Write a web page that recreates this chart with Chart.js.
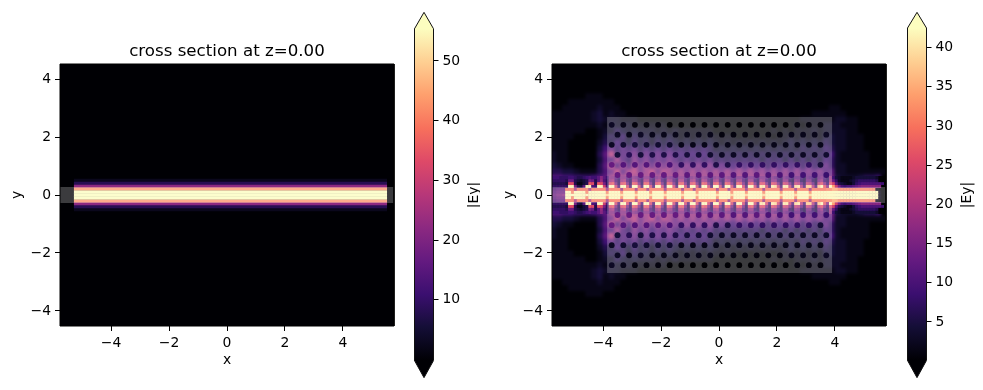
<!DOCTYPE html>
<html><head><meta charset="utf-8">
<style>html,body{margin:0;padding:0;background:#fff;width:983px;height:390px;overflow:hidden}canvas{position:absolute;top:0}</style>
<script src="https://cdn.jsdelivr.net/npm/chart.js@4/dist/chart.umd.min.js"></script>
</head><body>
<canvas id="pL" width="400" height="390" style="left:0"></canvas>
<canvas id="cL" width="80" height="390" style="left:400px"></canvas>
<canvas id="pR" width="400" height="390" style="left:492px"></canvas>
<canvas id="cR" width="90" height="390" style="left:893px"></canvas>
<script>
const titleText = 'cross section at z=0.00';
const xTicks = [-4, -2, 0, 2, 4];
const yTicks = [-4, -2, 0, 2, 4];
const xLimits = [-5.76, 5.76];
const yLimits = [-4.52, 4.52];
const barTicksLeft = [10, 20, 30, 40, 50];
const barTicksRight = [5, 10, 15, 20, 25, 30, 35, 40];
const rangeLeft = [-0.2, 55.4];
const rangeRight = [0.1, 42.5];
const magmaStops = ['#000004','#140e36','#3b0f70','#641a80','#8c2981','#b73779','#de4968','#f7705c','#fe9f6d','#fecf92','#fcfdbf'];

// left panel: the mode profile, one value per row above the axis (mirrored below)
const leftRowY = [0, 0.1, 0.2, 0.3, 0.4, 0.5];
const leftRowValue = [70, 60, 43, 22, 8, 2.5];
const leftBandX = [-5.28, 5.52];

// outlines of the structures
const waveguideX = [-5.76, 5.76, 5.76, -5.76];
const waveguideY = [0.28, 0.28, -0.28, -0.28];
const unionX = [-5.76, -3.86, -3.86, 3.9, 3.9, 5.76, 5.76, 3.9, 3.9, -3.86, -3.86, -5.76];
const unionY = [0.28, 0.28, 2.69, 2.69, 0.28, 0.28, -0.28, -0.28, -2.69, -2.69, -0.28, -0.28];

// photonic crystal holes
const holeRowsOdd = [2.42, 1.73, 1.04, -1.04, -1.73, -2.42];
const holeRowsEven = [2.08, 1.385, 0.69, -0.69, -1.385, -2.08];
const holeColsOdd = [-3.7,-3.3,-2.9,-2.5,-2.1,-1.7,-1.3,-0.9,-0.5,-0.1,0.3,0.7,1.1,1.5,1.9,2.3,2.7,3.1,3.5];
const holeColsEven = [-3.5,-3.1,-2.7,-2.3,-1.9,-1.5,-1.1,-0.7,-0.3,0.1,0.5,0.9,1.3,1.7,2.1,2.5,2.9,3.3,3.7];

// right panel field, each character = one cell, value = digit (base 36) x 1.5
const coarseStep = 0.2, coarseStartX = -5.7;
const coarseY = [3.6,3.4,3.2,3.0,2.8,2.6,2.4,2.2,2.0,1.8,1.6,1.4,1.2,1.0,0.8,0.6,0.4,0.2,0];
const coarseRows = [
'0000000000 000 000 000 000 000 000 000 000 000 000 000 000 000 000000000',
'0000001110 000 000 000 000 000 000 000 000 000 000 000 000 000 000000000',
'0001111111 100 000 000 000 000 000 000 000 000 000 000 000 000 000000000',
'0011111121 110 000 000 000 000 000 000 000 000 000 000 000 001 100000000',
'1111111231 211 000 000 000 000 000 000 000 000 000 000 001 111 110000000',
'1111111232 221 110 000 000 000 000 000 000 000 000 000 111 111 221100000',
'1111111121 322 211 111 100 000 000 000 000 000 000 001 011 122 211100000',
'1111110012 243 232 221 212 111 111 000 000 000 010 101 112 122 221100000',
'1111000013 435 243 323 232 121 212 111 101 010 101 121 212 133 221110000',
'1110000024 364 353 424 343 232 323 212 121 212 121 232 323 243 221110000',
'1110000036 857 574 646 464 545 454 232 323 232 323 232 434 354 221110000',
'2110000048 e57 795 868 686 656 564 434 343 434 343 434 343 446 211111000',
'2110000037 7c7 5a7 968 797 575 757 454 545 453 545 353 535 365 211111000',
'3211000048 e7c 7c9 c8c 9b9 8a8 a8a 686 686 868 586 868 585 585 221111000',
'4433211147 9e8 ce9 ce9 dc9 c9c 9c9 c9c 9c9 c9b 8b8 b8b 8a8 a78 221111111',
'7766555678 cec ece cec ece cdc dcd cdc cdc cdc bcb bab a9a 999 322234450',
'9998777889 fff fff fff fff fff fff fff fff fff fff fff fff fff 544556770',
'ccccccdddd kkk kkk kkk kkk kkk kkk kkk kkk kkk kkk kkk kkk kkk 888888880',
'ccccccdddd kkk kkk kkk kkk kkk kkk kkk kkk kkk kkk kkk kkk kkk 888888880'
];
const fineStep = 0.1, fineStartX = -5.75;
const fineY = [0, 0.1, 0.2, 0.3, 0.4, 0.5, 0.6];
const fineRows = [
'99aab ssssssssssss ssqs sssq ssss qsss sqss ssqs ssss qsss sqss ssss qsss sqss ssqs ssss qsss ssqs sssq ssss qsss ssss ssssssssssssssss 100',
'88999 sslsssslssss ssls sssl ssss lsss slss ssls ssss lsss slss ssss lsss slss ssls ssss lsss ssls sssl ssss lsss ssss ssssssssssssssss 100',
'77888 kkkdkkkkdkkk kkck kkkc kkkk ckkk ckkk kkck kkkk ckkk ckkk kkkk ckkk ckkk kkck kkkk ckkk kkck kkkc kkkk ckkk kkll nnlllllllllllll 100',
'55555 5ssa438ss76s sg7s sg7s sg7s sg7s sg7s sg7s sg7s sg7s sg7s sg7s sg7s sg7s sg7s sg7r rg7r qg7r rf7q re7p pe7p sib s nga767789abbbbbbb 000',
'44444 3hh41134ih4i ha5h ia5h ia5i ha5i ia5h ia5i ha5i ia5h ia5i ha5h ia5i ha5i ha5h ia5h ha5h ga5g fa5f e95f e94f hb6h g84321135677777776 000',
'55555 49943234a948 c75c d75c d75d c75d d75c d75d c75d d75c d75d c75c d75d c75c c75c c65c b65b b65b b54b a54a a54a c65d 9521112345555554 000',
'66655 566544567668 b86b b86b b86b a86b b86a b86b a86b b86a b86b a86a b86b a86a a86a a86a a85a 975a 9759 9649 8649 a75c 6321111233333332 000'
];

const fontFamily = '"DejaVu Sans", sans-serif';
const tickFont = {family: fontFamily, size: 13.9};

function hexRgb(h){return [1,3,5].map(i=>parseInt(h.substr(i,2),16));}
function magma(f){
  f=Math.max(0,Math.min(1,f));
  const p=f*(magmaStops.length-1), i=Math.min(Math.floor(p),magmaStops.length-2), t=p-i;
  const a=hexRgb(magmaStops[i]), b=hexRgb(magmaStops[i+1]);
  return `rgb(${a.map((c,k)=>Math.round(c+(b[k]-c)*t)).join(',')})`;
}
function digits(row){return row.replace(/ /g,'').split('').map(c=>parseInt(c,36)*1.5);}
function tableCells(rows, ys, startX, step){
  const cells=[];
  rows.forEach((row,r)=>{
    digits(row).forEach((v,c)=>{
      const x=startX+c*step;
      cells.push({x,y:ys[r],v});
      if(ys[r]!==0) cells.push({x,y:-ys[r],v});
    });
  });
  return cells;
}
const coarseValues = coarseRows.map(digits);
function fieldAt(x,y){
  const r=coarseY.findIndex(v=>Math.abs(v-Math.abs(y))<=coarseStep/2);
  const c=Math.round((x-coarseStartX)/coarseStep);
  return r<0?0:(coarseValues[r][c]||0);
}
function poly(xs,ys){const p=xs.map((x,i)=>({x,y:ys[i]}));p.push(p[0]);return p;}

function cellDataset(cells, step, range, order, soften){
  return {type:'scatter',data:cells,order,soften,pointStyle:'rect',pointBorderWidth:0,borderWidth:0,
    pointRadius(ctx){
      const s=ctx.chart.scales.x;
      return Math.abs(s.getPixelForValue(step)-s.getPixelForValue(0))*1.12/Math.SQRT2;
    },
    pointBackgroundColor(ctx){const v=ctx.raw?ctx.raw.v:0;return magma((v-range[0])/(range[1]-range[0]));}
  };
}
function shape(xs,ys,fillColor,stroke,order){
  return {type:'line',data:poly(xs,ys),order,fill:fillColor?'shape':false,backgroundColor:fillColor||'transparent',
    borderColor:stroke||'transparent',borderWidth:stroke?1:0,pointRadius:0,tension:0,clip:false};
}
const softenPlugin={id:'soften',afterDatasetDraw(chart,args){
  const b=chart.data.datasets[args.index].soften;
  if(!b) return;
  const c=chart.ctx,a=chart.chartArea;
  c.save();c.beginPath();c.rect(a.left,a.top,a.right-a.left,a.bottom-a.top);c.clip();
  c.filter=`blur(${b}px)`;c.drawImage(chart.canvas,0,0);c.restore();
}};
function tickFormat(v){return String(v).replace('-','\u2212');}
function panel(id,datasets){
  return new Chart(document.getElementById(id),{
    type:'scatter',data:{datasets},plugins:[softenPlugin],
    options:{responsive:false,animation:false,events:[],devicePixelRatio:1,
      layout:{autoPadding:false,padding:{top:42,right:6,left:0,bottom:0}},
      plugins:{legend:{display:false},tooltip:{enabled:false},
        title:{display:true,fullSize:false,text:titleText,color:'#000',font:{family:fontFamily,size:16.67,weight:'normal',lineHeight:1.2},padding:{top:0,bottom:2}}},
      scales:{
        x:{type:'linear',min:xLimits[0],max:xLimits[1],
          afterFit(s){s.height=64;},afterBuildTicks(s){s.ticks=xTicks.map(value=>({value}));},
          grid:{drawOnChartArea:false,drawTicks:true,tickLength:5,tickColor:'#000',tickWidth:1},border:{display:false},
          ticks:{color:'#000',font:tickFont,padding:4,maxRotation:0,autoSkip:false,callback:tickFormat},
          title:{display:true,text:'x',color:'#000',font:tickFont,padding:{top:0,bottom:21}}},
        y:{type:'linear',min:yLimits[0],max:yLimits[1],
          afterFit(s){s.width=60;},afterBuildTicks(s){s.ticks=yTicks.map(value=>({value}));},
          grid:{drawOnChartArea:false,drawTicks:true,tickLength:5,tickColor:'#000',tickWidth:1},border:{display:false},
          ticks:{color:'#000',font:tickFont,padding:4,autoSkip:false,callback:tickFormat},
          title:{display:true,text:'y',color:'#000',font:tickFont,padding:{top:9,bottom:0}}}
      }}
  });
}
const baseColor=magmaStops[0];
const frameX=[xLimits[0],xLimits[1],xLimits[1],xLimits[0]], frameY=[yLimits[1],yLimits[1],yLimits[0],yLimits[0]];

// left panel: each row of the band is one thick line through the library's scales
function bandRow(y,value){
  return {type:'line',data:leftBandX.map(x=>({x,y})),order:3+Math.abs(y)*10,tension:0,pointRadius:0,fill:false,borderCapStyle:'butt',
    borderColor:magma((value-rangeLeft[0])/(rangeLeft[1]-rangeLeft[0])),
    borderWidth(ctx){
      const s=ctx.chart.scales.y;
      return Math.abs(s.getPixelForValue(0.1)-s.getPixelForValue(0))+0.4;
    }};
}
const bandRows=[];
leftRowY.forEach((y,r)=>{
  bandRows.push(bandRow(y,leftRowValue[r]));
  if(y!==0) bandRows.push(bandRow(-y,leftRowValue[r]));
});
panel('pL',[
  shape(frameX,frameY,baseColor,null,30),
  ...bandRows,
  shape(waveguideX,waveguideY,'rgba(255,255,255,0.23)',null,2),
  shape(frameX,frameY,null,'#000',0)
]);

// right panel
const holes=[];
holeRowsOdd.forEach(y=>holeColsOdd.forEach(x=>holes.push({x,y,v:fieldAt(x,y)*0.62})));
holeRowsEven.forEach(y=>holeColsEven.forEach(x=>holes.push({x,y,v:fieldAt(x,y)*0.62})));
panel('pR',[
  shape(frameX,frameY,baseColor,null,9),
  cellDataset(tableCells(coarseRows,coarseY,coarseStartX,coarseStep),coarseStep,rangeRight,6,1.5),
  cellDataset(tableCells(fineRows,fineY,fineStartX,fineStep),fineStep,rangeRight,5,0.75),
  shape(unionX,unionY,'rgba(255,255,255,0.23)',null,2),
  {type:'scatter',data:holes,order:1,pointStyle:'circle',pointRadius:2.9,pointBorderWidth:0,borderWidth:0,
    pointBackgroundColor(ctx){const v=ctx.raw?ctx.raw.v:0;return magma((v-rangeRight[0])/(rangeRight[1]-rangeRight[0]));}},
  shape(frameX,frameY,null,'#000',0)
]);

// colour bars
function colorBar(id,range,ticks,axisMin,axisMax,canvasWidth){
  const labelPlugin={id:'barLabel',afterDraw(chart){
    const c=chart.ctx;c.save();c.translate(74,195);c.rotate(-Math.PI/2);
    c.fillStyle='#000';c.font=`13.9px ${fontFamily}`;c.textAlign='center';c.textBaseline='middle';
    c.fillText('|Ey|',0,0);c.restore();
  }};
  const outline=[{x:0,y:range[0]},{x:0.5,y:axisMin},{x:1,y:range[0]},{x:1,y:range[1]},{x:0.5,y:axisMax},{x:0,y:range[1]},{x:0,y:range[0]}];
  const chart=new Chart(document.getElementById(id),{
    type:'line',plugins:[labelPlugin],
    data:{datasets:[{data:outline,fill:'shape',tension:0,pointRadius:0,clip:false,borderColor:'#111',borderWidth:1,
      backgroundColor(ctx){
        const s=ctx.chart.scales.y;
        const top=s?s.getPixelForValue(range[1]):NaN,bottom=s?s.getPixelForValue(range[0]):NaN;
        if(!Number.isFinite(top)||!Number.isFinite(bottom)) return '#000';
        const g=ctx.chart.ctx.createLinearGradient(0,bottom,0,top);
        magmaStops.forEach((m,i)=>g.addColorStop(i/(magmaStops.length-1),m));
        return g;
      }}]},
    options:{responsive:false,animation:false,events:[],devicePixelRatio:1,
      layout:{autoPadding:false,padding:{top:10,bottom:10,left:14.5,right:0}},
      plugins:{legend:{display:false},tooltip:{enabled:false},title:{display:false}},
      scales:{
        x:{type:'linear',min:0,max:1,display:false},
        y:{type:'linear',position:'right',min:axisMin,max:axisMax,
          afterFit(s){s.width=canvasWidth-33.5;},afterBuildTicks(s){s.ticks=ticks.map(value=>({value}));},
          grid:{drawOnChartArea:false,drawTicks:true,tickLength:5,tickColor:'#000',tickWidth:1},border:{display:false},
          ticks:{color:'#000',font:tickFont,padding:4,autoSkip:false}}
      }}
  });
  chart.update();
  return chart;
}
colorBar('cL',rangeLeft,barTicksLeft,-3.06,58.15,80);
colorBar('cR',rangeRight,barTicksRight,-2.1,44.5,90);
</script>
</body></html>
